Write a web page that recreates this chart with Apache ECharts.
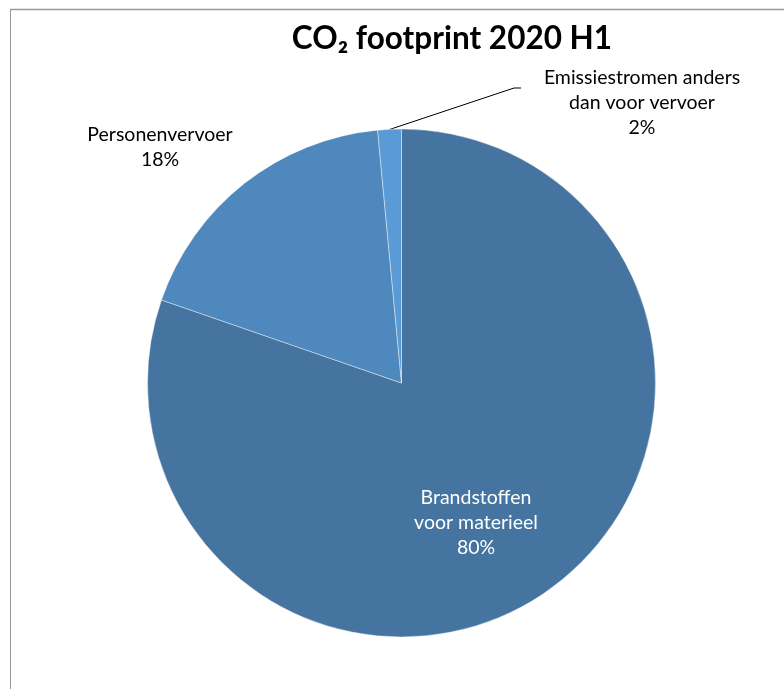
<!DOCTYPE html>
<html><head><meta charset="utf-8">
<script src="https://cdn.jsdelivr.net/npm/echarts@6/dist/echarts.min.js"></script>
<style>html,body{margin:0;padding:0;background:#fff}#c{width:784px;height:689px}</style>
</head><body><div id="c"></div>
<script>
const categories = ['Brandstoffen\nvoor materieel', 'Personenvervoer', 'Emissiestromen anders\ndan voor vervoer'];
const values = [80.3, 18.2, 1.5];
const colors = ['#44749F', '#4E88BC', '#5B9BD5'];
const titleText = 'CO\u2082 footprint 2020 H1';

const total = values.reduce((a, b) => a + b, 0);
const labelPos = [
  {x: 476, y: 523, align: 'center'},
  {x: 160, y: 147, align: 'center'},
  {x: 642, y: 103, align: 'center'}
];
const chart = echarts.init(document.getElementById('c'));
chart.setOption({
  animation: false,
  backgroundColor: '#fff',
  title: {
    text: titleText, left: 447, top: 18, textAlign: 'center',
    textStyle: {fontFamily: 'Lato', fontWeight: 'bold', fontSize: 31.5, color: '#000'}
  },
  graphic: [
    {type: 'line', shape: {x1: 10, y1: 9.5, x2: 784, y2: 9.5}, style: {stroke: '#999', lineWidth: 1.5}, silent: true},
    {type: 'line', shape: {x1: 10.5, y1: 9, x2: 10.5, y2: 689}, style: {stroke: '#999', lineWidth: 1}, silent: true}
  ],
  series: [{
    type: 'pie',
    center: [401.5, 383],
    radius: 254,
    startAngle: 90,
    clockwise: true,
    data: categories.map((c, i) => ({
      name: c, value: values[i],
      itemStyle: {color: colors[i]},
      label: {
        position: i === 0 ? 'inside' : 'outside',
        color: i === 0 ? '#fff' : '#000'
      },
      labelLine: {show: i === 2, lineStyle: {color: '#000', width: 1}}
    })),
    itemStyle: {borderColor: 'rgba(255,255,255,0.5)', borderWidth: 0.8},
    label: {
      show: true,
      formatter: p => p.name + '\n' + Math.round(p.value / total * 100) + '%',
      fontFamily: 'Lato',
      fontSize: 19.5,
      lineHeight: 25,
      align: 'center'
    },
    labelLayout: p => {
      const lp = labelPos[p.dataIndex];
      const r = {x: lp.x, y: lp.y, align: lp.align, verticalAlign: 'middle'};
      if (p.dataIndex === 2) {
        r.labelLinePoints = [[389.5, 129.5], [514, 88], [521, 88]];
      }
      return r;
    }
  }]
});
</script></body></html>
